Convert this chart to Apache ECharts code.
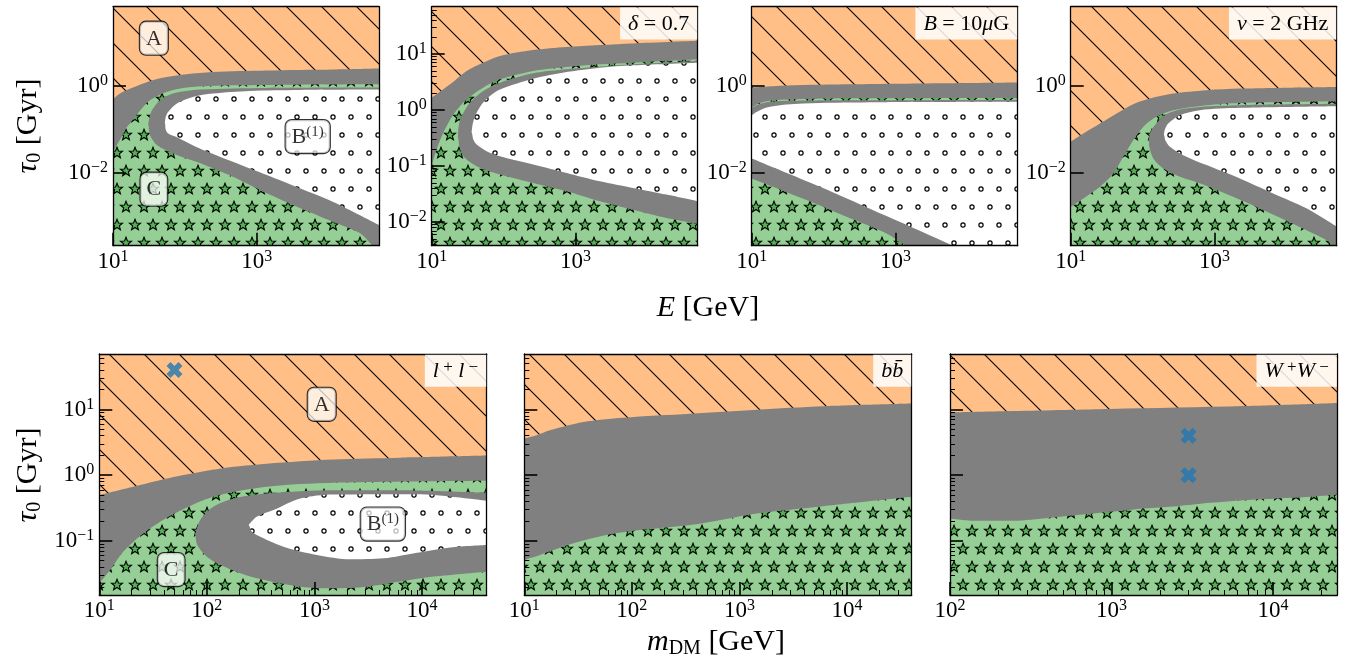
<!DOCTYPE html>
<html><head><meta charset="utf-8">
<script src="https://cdn.jsdelivr.net/npm/echarts@6/dist/echarts.min.js"></script>
<style>html,body{margin:0;padding:0;background:#fff}#c{width:1347px;height:658px}</style>
</head><body><div id="c"></div>
<script>
// ---------------- axis ranges & ticks ----------------
const topXRange = [10, 50000];
const topYRange = [2e-4, 70];
const p2YRange = [0.0038, 70];
const botXRange = [10, 40000];
const p7XRange = [100, 25000];
const botYRange = [0.015, 70];

const topXMajor = [10, 1000];
const topYMajor = [1, 0.01];
const p2YMajor = [10, 1, 0.1, 0.01];
const p2YMinor = [0.004,0.005,0.006,0.007,0.008,0.009,0.02,0.03,0.04,0.05,0.06,0.07,0.08,0.09,0.2,0.3,0.4,0.5,0.6,0.7,0.8,0.9,2,3,4,5,6,7,8,9,20,30,40,50,60];
const botXMajor = [10, 100, 1000, 10000];
const p7XMajor = [100, 1000, 10000];
const botYMajor = [10, 1, 0.1];
const botYMinor = [0.02,0.03,0.04,0.05,0.06,0.07,0.08,0.09,0.2,0.3,0.4,0.5,0.6,0.7,0.8,0.9,2,3,4,5,6,7,8,9,20,30,40,50,60];
const botXMinor = [20,30,40,50,60,70,80,90,200,300,400,500,600,700,800,900,2000,3000,4000,5000,6000,7000,8000,9000,20000,30000];
const p7XMinor = [200,300,400,500,600,700,800,900,2000,3000,4000,5000,6000,7000,8000,9000,20000];

// ---------------- panel 1 (E, baseline) ----------------
const p1Upper = [[10,0.50],[12.5,0.68],[19,0.93],[32,1.31],[56,1.64],[105,1.90],[245,2.14],[1350,2.31],[11500,2.44],[50000,2.57]];
const p1Green = [[10,0.03],[11.3,0.043],[13.2,0.067],[15.5,0.112],[17.2,0.137],[23.7,0.271],[32.6,0.474],[55.6,0.738],[106,0.933],[464,1.05],[3950,1.09],[50000,1.11]];
const p1OuterTop = [[30.9,0.125],[32.2,0.19],[34.8,0.278],[45,0.474],[68,0.678],[161,0.839],[1376,0.914],[50000,0.933]];
const p1InnerTop = [[52.7,0.139],[54,0.19],[58,0.25],[77.4,0.398],[129,0.565],[245,0.678],[800,0.778],[3950,0.821],[50000,0.839]];
const p1InnerBot = [[52.7,0.139],[54,0.101],[58,0.0817],[77.4,0.066],[161,0.0361],[464,0.0177],[1376,0.0087],[3950,0.00429],[11370,0.0021],[50000,0.000606]];
const p1OuterBot = [[30.9,0.125],[31.6,0.096],[32.6,0.0734],[40.8,0.0431],[68,0.0277],[161,0.0165],[464,0.00795],[1376,0.00328],[3950,0.0015],[11370,0.000723],[27000,0.000395],[40800,0.0002],[50000,0.00015]];

// ---------------- panel 2 (delta = 0.7) ----------------
const p2Upper = [[10,1.66],[18,2.88],[30.6,5.0],[52,7.0],[89,9.25],[258,11.8],[750,13.4],[6300,15.4],[50000,17.2]];
const p2Green = [[10,0.1],[11.7,0.198],[14.5,0.393],[20,0.836],[30.6,1.55],[52,2.51],[89,3.54],[258,5.0],[750,5.88],[2180,6.56],[6300,7.03],[50000,8.06]];
const p2OuterTop = [[23.2,0.32],[23.7,0.52],[26.1,0.781],[34,1.35],[52,2.19],[89,3.08],[258,4.53],[750,5.34],[6300,6.56],[50000,7.53]];
const p2InnerTop = [[35.9,0.393],[37,0.55],[40,0.78],[49.4,1.26],[64.5,1.78],[89,2.34],[258,3.63],[750,4.78],[2180,5.72],[6300,6.3],[50000,7.03]];
const p2InnerBot = [[35.9,0.393],[37.9,0.3],[42.2,0.243],[58,0.185],[89,0.150],[258,0.1067],[750,0.0757],[2180,0.0537],[6300,0.0408],[18400,0.031],[50000,0.0236]];
const p2OuterBot = [[23.2,0.32],[24.2,0.227],[27.5,0.15],[42.2,0.0996],[89,0.0707],[258,0.0501],[750,0.0356],[2180,0.0236],[6300,0.0167],[18400,0.0119],[50000,0.0094]];

// ---------------- panel 3 (B = 10 muG) ----------------
const p3Upper = [[10,0.93],[30.6,1.04],[258,1.11],[50000,1.22]];
const p3Green = [[10,0.32],[13.1,0.41],[20,0.474],[52.2,0.509],[258,0.527],[50000,0.537]];
const p3GrayStrip = [[10,0.309],[13.1,0.39],[20,0.441],[52.2,0.466],[258,0.474],[50000,0.482]];
const p3White = [[10,0.213],[11.7,0.254],[16.2,0.32],[30.6,0.376],[89,0.411],[750,0.426],[50000,0.434]];
const p3BandTop = [[10,0.0211],[89,0.00466],[750,0.000973],[6320,0.0002],[50000,0.000043]];
const p3BandBot = [[10,0.00726],[58,0.00229],[208,0.00094],[750,0.000386],[1420,0.0002],[50000,0.000015]];

// ---------------- panel 4 (nu = 2 GHz) ----------------
const p4Upper = [[10,0.0513],[15,0.08],[25.5,0.136],[43.5,0.233],[74,0.383],[126,0.518],[267,0.676],[774,0.808],[2250,0.883],[50000,0.965]];
const p4Green = [[10,0.0016],[15,0.0025],[25.5,0.00466],[39.1,0.0095],[53.8,0.0231],[74,0.0561],[102,0.114],[156,0.195],[267,0.278],[774,0.363],[2250,0.411],[50000,0.45]];
const p4OuterTop = [[122,0.0513],[126,0.08],[148,0.125],[204,0.213],[330,0.288],[625,0.332],[2250,0.363],[50000,0.39]];
const p4InnerTop = [[198,0.0733],[203,0.096],[227,0.136],[330,0.213],[625,0.278],[2250,0.315],[50000,0.344]];
const p4InnerBot = [[198,0.0733],[207,0.056],[240,0.0393],[367,0.0252],[774,0.0148],[2250,0.00726],[6530,0.00327],[18970,0.00147],[50000,0.000551]];
const p4OuterBot = [[122,0.0513],[124,0.0393],[141,0.0211],[194,0.0124],[330,0.00794],[696,0.00527],[2640,0.00209],[9480,0.000787],[32300,0.000296],[50000,0.00019]];

// ---------------- panel 5 (l+l-) ----------------
const p5Upper = [[10,0.497],[20.7,0.665],[42.3,0.89],[86.5,1.12],[177,1.34],[361,1.50],[1510,1.73],[6290,1.85],[40000,1.99]];
const p5Green = [[10,0.0226],[12.6,0.036],[16.7,0.0685],[25.7,0.13],[47.1,0.247],[115,0.469],[361,0.665],[1510,0.765],[40000,0.82]];
const p5OuterTop = [[77.6,0.123],[86.5,0.207],[115,0.33],[177,0.442],[361,0.527],[1510,0.592],[6290,0.592],[40000,0.539]];
const p5InnerTop = [[244,0.174],[291,0.233],[417,0.294],[738,0.442],[1510,0.509],[8990,0.515],[40000,0.408]];
const p5InnerBot = [[244,0.174],[260,0.14],[291,0.123],[516,0.0815],[1055,0.061],[2150,0.0524],[4400,0.0542],[8990,0.0661],[18370,0.0796],[40000,0.0865]];
const p5OuterBot = [[77.6,0.123],[80.7,0.09],[95,0.062],[124,0.0455],[253,0.0286],[738,0.0201],[1510,0.019],[3080,0.0201],[6290,0.024],[12850,0.0286],[40000,0.034]];
const p5Marker = [[50,40]];

// ---------------- panel 6 (b bbar) ----------------
const p6Upper = [[10,3.61],[13,4.05],[17.3,4.83],[35.4,6.46],[83.4,7.52],[348,8.64],[1456,9.94],[6070,11.2],[40000,12.3]];
const p6Green = [[10,0.0512],[14,0.061],[28.6,0.0917],[58.3,0.123],[119,0.146],[348,0.174],[711,0.212],[1456,0.262],[6070,0.338],[40000,0.469]];

// ---------------- panel 7 (W+W-) ----------------
const p7Upper = [[100,9.06],[984,10.2],[6610,11.3],[25000,12.6]];
const p7Green = [[100,0.22],[146,0.202],[236,0.202],[379,0.22],[611,0.247],[984,0.277],[1585,0.312],[2550,0.338],[4100,0.38],[6610,0.417],[10640,0.442],[17130,0.469],[25000,0.508]];
const p7Markers = [[3000,4],[3000,1]];

// region labels
const p1LabelText = ['A', '{m|B}{s|(1)}', 'C'];
const p1LabelPos = [[37,13],[5100,0.068],[37,0.0041]];
const p5LabelText = ['A', '{m|B}{s|(1)}', 'C'];
const p5LabelPos = [[1170,12],[4330,0.18],[46.6,0.0366]];
const cornerText = [null, '{i|δ}{r| = 0.7}', '{i|B}{r| = 10}{i|μ}{r|G}', '{i|ν}{r| = 2 GHz}', '{i|l}{p| +}{i| l}{p| −}', '{i|bb̄}', '{i|W}{p| +}{i|W}{p| −}'];

// ---------------- styling ----------------
const FONT = 'Liberation Serif';
const ORANGE = '#ffbf86', GREEN = '#95cf95', GRAY = '#808080', STARFILL = '#52b152';

function makeTile(w, h, fn) { const c = document.createElement('canvas'); c.width = w; c.height = h; fn(c.getContext('2d'), w, h); return c; }
const hatchTile = makeTile(35, 35, (g, w, h) => {
  g.fillStyle = ORANGE; g.fillRect(0, 0, w, h);
  g.strokeStyle = '#000'; g.lineWidth = 1.1;
  for (const k of [-w, 0, w]) { g.beginPath(); g.moveTo(k - 3, -3); g.lineTo(k + w + 3, h + 3); g.stroke(); }
});
function drawStar(g, cx, cy, R, r) {
  g.beginPath();
  for (let i = 0; i < 10; i++) { const a = -Math.PI / 2 + i * Math.PI / 5; const rr = i % 2 ? r : R; g.lineTo(cx + rr * Math.cos(a), cy + rr * Math.sin(a)); }
  g.closePath(); g.fill(); g.stroke();
}
const tileSites = [[9, 9], [27, 9], [0, 27], [18, 27]];
const starTile = makeTile(36, 36, (g, w, h) => {
  g.fillStyle = GREEN; g.fillRect(0, 0, w, h);
  g.fillStyle = STARFILL; g.strokeStyle = '#000'; g.lineWidth = 1.1; g.lineJoin = 'miter';
  for (const [sx, sy] of tileSites) for (const dx of [-w, 0, w]) for (const dy of [-h, 0, h]) drawStar(g, sx + dx, sy + dy, 5.8, 2.5);
});
const dotTile = makeTile(36, 36, (g, w, h) => {
  g.fillStyle = '#fff'; g.fillRect(0, 0, w, h);
  g.strokeStyle = '#000'; g.lineWidth = 1.2;
  for (const [sx, sy] of tileSites) for (const dx of [-w, 0, w]) for (const dy of [-h, 0, h]) { g.beginPath(); g.arc(sx + dx, sy + dy, 2.1, 0, Math.PI * 2); g.stroke(); }
});
const HATCH = { image: hatchTile, repeat: 'repeat' };
const STARS = { image: starTile, repeat: 'repeat' };
const DOTS = { image: dotTile, repeat: 'repeat' };

const gridBoxes = [
  [113, 6.7, 266, 239], [431.7, 6.7, 266, 239], [751.7, 6.7, 266, 239], [1070.7, 6.7, 266, 239],
  [99.3, 354, 387.4, 241], [524.3, 354, 387.4, 241], [950, 354, 387.3, 241]
];

function topEdge(xr, yr) { return [[xr[0], yr[1]], [xr[1], yr[1]]]; }

// layer: [data, fill, restore?]  restore layers are started a hair to the left of their tip to hide seams
const panels = [
  { x: topXRange, y: topYRange, xt: topXMajor, yt: topYMajor, xm: null, ym: null, yl: true,
    layers: [[topEdge(topXRange, topYRange), HATCH], [p1Upper, GRAY], [p1Green, STARS], [p1OuterTop, GRAY], [p1InnerTop, DOTS], [p1InnerBot, GRAY, 1], [p1OuterBot, STARS, 1]] },
  { x: topXRange, y: p2YRange, xt: topXMajor, yt: p2YMajor, xm: null, ym: p2YMinor, yl: true,
    layers: [[topEdge(topXRange, p2YRange), HATCH], [p2Upper, GRAY], [p2Green, STARS], [p2OuterTop, GRAY], [p2InnerTop, DOTS], [p2InnerBot, GRAY, 1], [p2OuterBot, STARS, 1]] },
  { x: topXRange, y: topYRange, xt: topXMajor, yt: topYMajor, xm: null, ym: null, yl: true,
    layers: [[topEdge(topXRange, topYRange), HATCH], [p3Upper, GRAY], [p3Green, STARS], [p3GrayStrip, GRAY], [p3White, DOTS], [p3BandTop, GRAY], [p3BandBot, STARS]] },
  { x: topXRange, y: topYRange, xt: topXMajor, yt: topYMajor, xm: null, ym: null, yl: true,
    layers: [[topEdge(topXRange, topYRange), HATCH], [p4Upper, GRAY], [p4Green, STARS], [p4OuterTop, GRAY], [p4InnerTop, DOTS], [p4InnerBot, GRAY, 1], [p4OuterBot, STARS, 1]] },
  { x: botXRange, y: botYRange, xt: botXMajor, yt: botYMajor, xm: botXMinor, ym: botYMinor, yl: true,
    layers: [[topEdge(botXRange, botYRange), HATCH], [p5Upper, GRAY], [p5Green, STARS], [p5OuterTop, GRAY], [p5InnerTop, DOTS], [p5InnerBot, GRAY, 1], [p5OuterBot, STARS, 1]] },
  { x: botXRange, y: botYRange, xt: botXMajor, yt: botYMajor, xm: botXMinor, ym: botYMinor, yl: false,
    layers: [[topEdge(botXRange, botYRange), HATCH], [p6Upper, GRAY], [p6Green, STARS]] },
  { x: p7XRange, y: botYRange, xt: p7XMajor, yt: botYMajor, xm: p7XMinor, ym: botYMinor, yl: false,
    layers: [[topEdge(p7XRange, botYRange), HATCH], [p7Upper, GRAY], [p7Green, STARS]] }
];

const tickRich = {
  b: { fontFamily: FONT, fontSize: 23, lineHeight: 26, color: '#000' },
  s: { fontFamily: FONT, fontSize: 16, lineHeight: 11, verticalAlign: 'top', color: '#000' }
};
function expFmt(v) { const e = Math.round(Math.log10(v)); return '{b|10}{s|' + (e < 0 ? '−' + (-e) : e) + '}'; }

function baseAxis(gi, r, pos) {
  return { type: 'log', logBase: 10, gridIndex: gi, min: r[0], max: r[1], position: pos, z: 50,
    splitLine: { show: false }, minorTick: { show: false }, minorSplitLine: { show: false }, axisPointer: { show: false } };
}
function mainAxis(gi, r, ticks, labels, pos) {
  const a = baseAxis(gi, r, pos);
  a.axisLine = { show: true, onZero: false, lineStyle: { color: '#000', width: 1.3 } };
  a.axisTick = { show: true, inside: true, length: 13, customValues: ticks, lineStyle: { color: '#000', width: 1.6 } };
  a.axisLabel = { show: labels, customValues: ticks, formatter: expFmt, rich: tickRich, margin: pos === 'left' ? 5 : 3, color: '#000' };
  return a;
}
function frameAxis(gi, r, pos) {
  const a = baseAxis(gi, r, pos);
  a.axisLine = { show: true, onZero: false, lineStyle: { color: '#000', width: 1.3 } };
  a.axisTick = { show: false }; a.axisLabel = { show: false };
  return a;
}
function minorAxis(gi, r, ticks, pos) {
  const a = baseAxis(gi, r, pos);
  a.axisLine = { show: false, onZero: false };
  a.axisTick = { show: true, inside: true, length: 5, customValues: ticks, lineStyle: { color: '#000', width: 1 } };
  a.axisLabel = { show: false };
  return a;
}

const grids = [], xAxes = [], yAxes = [], series = [];
const labelRich = {
  m: { fontFamily: FONT, fontSize: 22, lineHeight: 26, color: '#000' },
  s: { fontFamily: FONT, fontSize: 15, lineHeight: 12, verticalAlign: 'top', color: '#000' }
};
function labelSeries(xi, yi, texts, pos) {
  return { type: 'scatter', xAxisIndex: xi, yAxisIndex: yi, z: 60, silent: true, animation: false, symbolSize: 1,
    itemStyle: { color: 'transparent' },
    data: pos.map((p, i) => ({ value: p, label: { formatter: texts[i] } })),
    label: { show: true, position: 'inside', color: '#000', fontFamily: FONT, fontSize: 22, lineHeight: 26,
      backgroundColor: 'rgba(255,255,255,0.9)', borderColor: '#000', borderWidth: 1.1, borderRadius: 6,
      padding: [4, 6, 3, 6], rich: labelRich } };
}
const XMARK = 'path://M2.5,0 L5,2.5 L7.5,0 L10,2.5 L7.5,5 L10,7.5 L7.5,10 L5,7.5 L2.5,10 L0,7.5 L2.5,5 L0,2.5 Z';
function markerSeries(xi, yi, data) {
  return { type: 'scatter', xAxisIndex: xi, yAxisIndex: yi, z: 60, silent: true, animation: false,
    symbol: XMARK, symbolSize: 16, itemStyle: { color: '#1f77b4' }, data };
}

panels.forEach((p, gi) => {
  const b = gridBoxes[gi];
  grids.push({ left: b[0], top: b[1], width: b[2], height: b[3], containLabel: false });
  const xi = xAxes.length, yi = yAxes.length;
  xAxes.push(mainAxis(gi, p.x, p.xt, true, 'bottom'));
  yAxes.push(mainAxis(gi, p.y, p.yt, p.yl, 'left'));
  xAxes.push(frameAxis(gi, p.x, 'top'));
  yAxes.push(frameAxis(gi, p.y, 'right'));
  if (p.xm) xAxes.push(minorAxis(gi, p.x, p.xm, 'bottom'));
  if (p.ym) yAxes.push(minorAxis(gi, p.y, p.ym, 'left'));
  p.layers.forEach(([data, fill, restore], li) => {
    const d = restore ? [[data[0][0] / 1.05, data[0][1]]].concat(data) : data;
    series.push({ type: 'line', xAxisIndex: xi, yAxisIndex: yi, data: d, showSymbol: false, symbol: 'none',
      smooth: 0.3, lineStyle: { width: 0, opacity: 0 }, areaStyle: { color: fill, opacity: 1, origin: 'start' },
      silent: true, animation: false, z: 2 + li, clip: true });
  });
  if (gi === 0) series.push(labelSeries(xi, yi, p1LabelText, p1LabelPos));
  if (gi === 4) { series.push(labelSeries(xi, yi, p5LabelText, p5LabelPos)); series.push(markerSeries(xi, yi, p5Marker)); }
  if (gi === 6) series.push(markerSeries(xi, yi, p7Markers));
});

const titleRich = {
  i: { fontFamily: FONT, fontStyle: 'italic', fontSize: 30, lineHeight: 34, color: '#000' },
  n: { fontFamily: FONT, fontSize: 30, lineHeight: 34, color: '#000' },
  s: { fontFamily: FONT, fontSize: 20, lineHeight: 19, verticalAlign: 'bottom', color: '#000' }
};
const cornerRich = {
  i: { fontFamily: FONT, fontStyle: 'italic', fontSize: 22, lineHeight: 25, color: '#000' },
  r: { fontFamily: FONT, fontSize: 22, lineHeight: 25, color: '#000' },
  p: { fontFamily: FONT, fontSize: 17, lineHeight: 12, verticalAlign: 'top', color: '#000' }
};
const graphic = [
  { type: 'text', x: 28, y: 126, rotation: Math.PI / 2, z: 100, style: { text: '{i|τ}{s|0}{n| [Gyr]}', rich: titleRich, align: 'center', verticalAlign: 'middle' } },
  { type: 'text', x: 28, y: 475, rotation: Math.PI / 2, z: 100, style: { text: '{i|τ}{s|0}{n| [Gyr]}', rich: titleRich, align: 'center', verticalAlign: 'middle' } },
  { type: 'text', x: 708, y: 308, z: 100, style: { text: '{i|E}{n| [GeV]}', rich: titleRich, align: 'center', verticalAlign: 'middle' } },
  { type: 'text', x: 716, y: 642, z: 100, style: { text: '{i|m}{s|DM}{n| [GeV]}', rich: titleRich, align: 'center', verticalAlign: 'middle' } }
];
cornerText.forEach((t, gi) => {
  if (!t) return;
  const b = gridBoxes[gi];
  graphic.push({ type: 'text', x: b[0] + b[2] - 0.5, y: b[1] + 0.8, z: 100,
    style: { text: t, rich: cornerRich, align: 'right', verticalAlign: 'top', backgroundColor: 'rgba(255,255,255,0.85)', padding: [4, 8, 3, 8] } });
});

const chart = echarts.init(document.getElementById('c'), null, { renderer: 'canvas' });
chart.setOption({
  backgroundColor: '#fff', animation: false,
  grid: grids, xAxis: xAxes, yAxis: yAxes, series, graphic
});
</script>
</body></html>
